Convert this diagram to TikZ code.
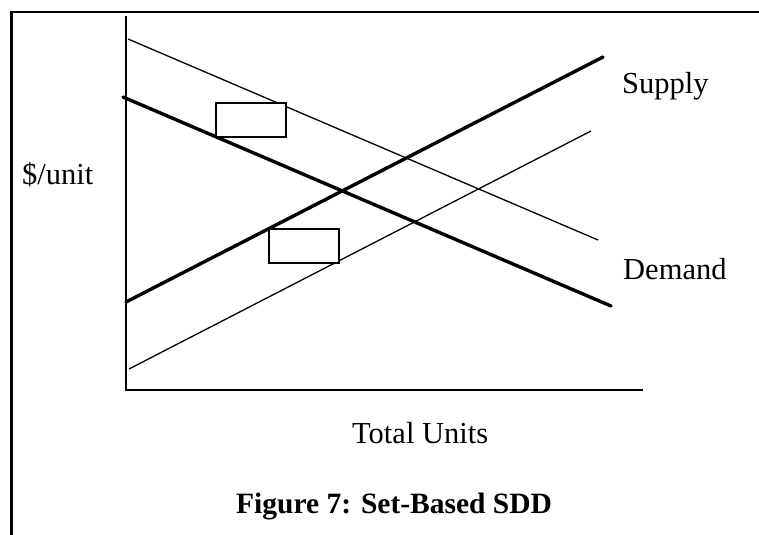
\documentclass[tikz,border=0pt]{standalone}
\usepackage{fontspec}
\setmainfont{Liberation Serif}
\begin{document}
\begin{tikzpicture}[x=1bp,y=-1bp,
  frameline/.style={line width=2.4bp},
  axisline/.style={line width=2bp},
  curvebold/.style={line width=3.4bp, line cap=round},
  curvethin/.style={line width=1.3bp},
  setbox/.style={draw, line width=2.2bp, rectangle},
  lbl/.style={inner sep=0pt, anchor=base west, font=\fontsize{30.5bp}{36bp}\selectfont},
  captiontext/.style={inner sep=0pt, anchor=base west, font=\fontsize{29.5bp}{36bp}\selectfont\bfseries}]
  \useasboundingbox (0,0) rectangle (759,535);
  \clip (0,0) rectangle (759,535);
  \fill[white] (0,0) rectangle (759,535);

  % outer frame (only left and top edges fall inside the page)
  \draw[frameline] (11.3,545) -- (11.3,12) -- (770,12);

  % axes
  \coordinate (origin) at (126,390);
  \coordinate (ytop) at (126,16);
  \coordinate (xend) at (643,390);
  \draw[axisline] (ytop) -- (origin) -- (xend);

  % nominal demand and supply curves
  \coordinate (dA) at (123,97);
  \coordinate (dB) at (611,306);
  \coordinate (sA) at (126,302);
  \coordinate (sB) at (603,57);
  \draw[curvebold] (dA) -- (dB);
  \draw[curvebold] (sA) -- (sB);

  % bounding curves of the sets
  \coordinate (duA) at (128,39);
  \coordinate (duB) at (598,240);
  \coordinate (slA) at (129,369);
  \coordinate (slB) at (591,131);
  \draw[curvethin] (duA) -- (duB);
  \draw[curvethin] (slA) -- (slB);

  % set boxes
  \node[setbox, fill=white, minimum width=70bp, minimum height=34bp, inner sep=0pt] (boxD) at (251,120) {};
  \node[setbox, fill=white, minimum width=70bp, minimum height=34bp, inner sep=0pt] (boxS) at (304,246) {};

  % labels
  \node[lbl] (supply) at (622,94) {Supply};
  \node[lbl] (demand) at (623,280) {Demand};
  \node[lbl] (yunit) at (22,185) {\$/unit};
  \node[lbl] (xunit) at (352,443) {Total Units};
  \node[captiontext] (caption) at (236,513) {Figure 7: Set-Based SDD};
\end{tikzpicture}
\end{document}
